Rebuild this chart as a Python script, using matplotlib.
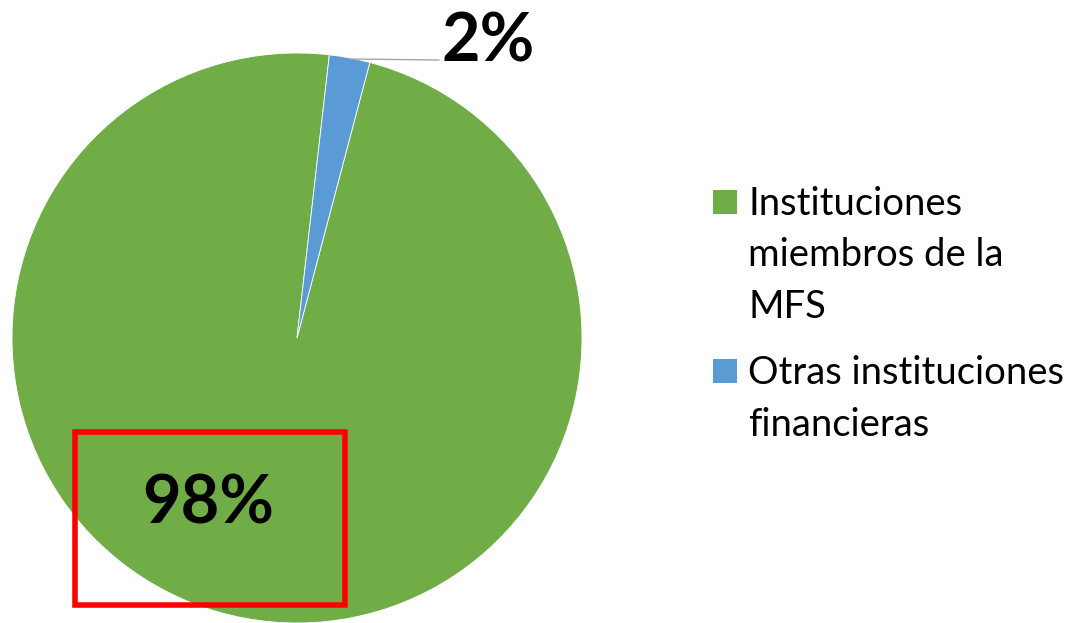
import matplotlib
matplotlib.use("Agg")
import matplotlib.pyplot as plt
from matplotlib.patches import Rectangle

# ---- data ----
categories = ["Instituciones\nmiembros de la\nMFS", "Otras instituciones\nfinancieras"]
values = [97.7, 2.3]
pct_labels = ["98%", "2%"]
colors = ["#70AD47", "#5B9BD5"]

W, H = 1079, 623
fig = plt.figure(figsize=(W / 100, H / 100), dpi=100)
ax = fig.add_axes([0, 0, 1, 1])
ax.set_xlim(0, W)
ax.set_ylim(0, H)
ax.set_aspect("equal")
ax.axis("off")

def Y(ypx):
    return H - ypx

cx, cy, r = 297, Y(338), 285
wedges, _ = ax.pie(values, colors=colors, startangle=75.2, counterclock=False,
                   center=(cx, cy), radius=r,
                   wedgeprops=dict(edgecolor="white", linewidth=0.6))
ax.set_xlim(0, W)
ax.set_ylim(0, H)
ax.axis("off")

font = "Lato"
# data labels
ax.plot([350, 439], [Y(59), Y(60)], color="#A6A6A6", lw=1.0, zorder=3)
ax.text(488.5, Y(61), pct_labels[1], ha="center", va="baseline",
        fontsize=48, fontweight="bold", family=font, color="black")
ax.text(208.5, Y(523), pct_labels[0], ha="center", va="baseline",
        fontsize=48, fontweight="bold", family=font, color="black", zorder=4)

# red highlight box
ax.add_patch(Rectangle((74.5, Y(604.5)), 270, 172.5, fill=False,
                       edgecolor="#FF0000", lw=4.0, zorder=5))

# legend (manual, Excel style: marker aligned with first line)
entry_baselines = [215, 384]
line_gap = 51.5
for cat, col, b in zip(categories, colors, entry_baselines):
    ax.add_patch(Rectangle((713, Y(b - 1)), 24, 24, facecolor=col, edgecolor="none"))
    for i, line in enumerate(cat.split("\n")):
        ax.text(748, Y(b + i * line_gap), line, ha="left", va="baseline",
                fontsize=27.5, family=font, color="black")

fig.savefig("out.png", dpi=100)
